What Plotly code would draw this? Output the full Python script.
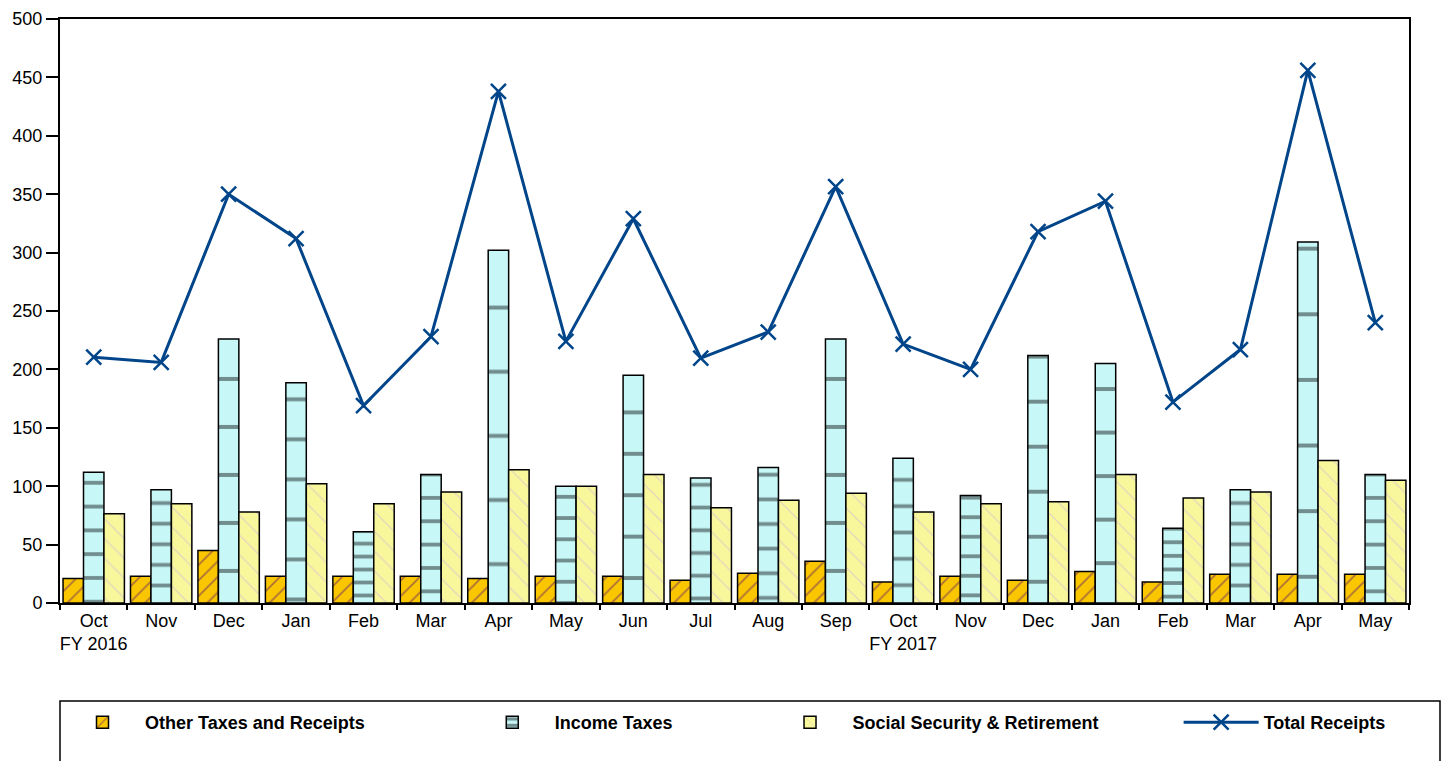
import plotly.graph_objects as go

months = ["Oct<br>FY 2016", "Nov", "Dec", "Jan", "Feb", "Mar", "Apr", "May", "Jun", "Jul",
          "Aug", "Sep", "Oct<br>FY 2017", "Nov", "Dec", "Jan", "Feb", "Mar", "Apr", "May"]
other_taxes = [21, 23, 45, 23, 23, 23, 21, 23, 23, 19.5, 25.5, 35.7, 18, 23, 19.5, 27, 18, 24.6, 24.6, 24.6]
income_taxes = [112, 97, 226, 188.5, 61, 110, 302, 100, 195, 107, 116, 226, 124, 92, 212, 205, 64, 97, 309, 110]
social_security = [76.5, 85, 78, 102, 85, 95, 114, 100, 110, 81.5, 88, 94, 78, 85, 86.6, 110, 90, 95, 122, 105]
total_receipts = [210.5, 206, 350, 312, 169, 228, 438, 224, 329, 209.7, 232, 356.5, 221.6, 200, 318, 344, 172, 217, 456, 240]

series_names = ["Other Taxes and Receipts", "Income Taxes", "Social Security & Retirement", "Total Receipts"]

x = list(range(len(months)))

# legend spacing: pad the entry text with non-breaking spaces
pad = [20, 18, 15, 0]
legend_names = [n + "&nbsp;" * p for n, p in zip(series_names, pad)]

W, H = 1450, 761
M_L, M_R, M_T, M_B = 52, 49, 11, 166
plot_h = H - M_T - M_B
plot_w = W - M_L - M_R

# pattern spacing for income-tax bars scales with bar height (about 5.5 bands per bar)
px_per_unit = plot_h / 500
inc_sizes = [max(8, v * px_per_unit / 5.5) for v in income_taxes]
inc_solid = [min(0.45, 3.8 / s) for s in inc_sizes]

fig = go.Figure()
fig.add_trace(go.Bar(
    x=x, y=other_taxes, name=legend_names[0],
    marker=dict(color="#F9C600", line=dict(color="black", width=1.5),
                pattern=dict(shape="/", fgcolor="#5E1470", bgcolor="#F9C600", size=11, solidity=0.15)),
))
fig.add_trace(go.Bar(
    x=x, y=income_taxes, name=legend_names[1],
    marker=dict(color="#C8F7F7", line=dict(color="black", width=1.5),
                pattern=dict(shape="-", fgcolor="#1A2426", bgcolor="#C8F7F7", size=inc_sizes, solidity=inc_solid)),
))
fig.add_trace(go.Bar(
    x=x, y=social_security, name=legend_names[2],
    marker=dict(color="#F8F79C", line=dict(color="black", width=1.5),
                pattern=dict(shape="\\", fgcolor="#C9A6E6", bgcolor="#F8F79C", size=14, solidity=0.08)),
))
fig.add_trace(go.Scatter(
    x=x, y=total_receipts, name=legend_names[3], mode="lines+markers",
    line=dict(color="#00458A", width=3),
    marker=dict(symbol="x-thin-open", size=15, color="#00458A", line=dict(color="#00458A", width=2.5)),
))

fig.update_layout(
    width=W, height=H,
    margin=dict(l=M_L, r=M_R, t=M_T, b=M_B, autoexpand=False),
    paper_bgcolor="white", plot_bgcolor="white",
    font=dict(family="Liberation Sans, Arial, sans-serif", size=18, color="black"),
    barmode="group", bargap=0.09, bargroupgap=0,
    showlegend=True,
    legend=dict(orientation="h", x=0, xanchor="left", y=-101 / plot_h, yanchor="top",
                borderwidth=0, bgcolor="rgba(0,0,0,0)",
                font=dict(family="Liberation Sans, Arial, sans-serif", size=18, weight="bold"),
                itemwidth=75, traceorder="normal"),
    shapes=[dict(type="rect", xref="paper", yref="paper",
                 x0=0, x1=1380 / plot_w, y0=-98 / plot_h, y1=-170 / plot_h,
                 line=dict(color="black", width=1.5), fillcolor="rgba(0,0,0,0)", layer="below")],
)
fig.update_xaxes(
    range=[-0.5, len(months) - 0.5], automargin=False, ticklabeloverflow="allow",
    tickmode="array", tickvals=x, ticktext=months, ticks="", ticklen=0,
    showline=True, linecolor="black", linewidth=2, mirror=True,
    showgrid=False, zeroline=False,
    minor=dict(tickmode="array", tickvals=[i - 0.5 for i in range(len(months) + 1)],
               ticks="outside", ticklen=5, tickwidth=2, tickcolor="black", showgrid=False),
)
fig.update_yaxes(
    range=[0, 500], tickmode="linear", tick0=0, dtick=50, automargin=False, ticklabeloverflow="allow",
    ticks="outside", ticklen=12, tickwidth=1.5, tickcolor="black",
    showline=True, linecolor="black", linewidth=2, mirror=True,
    showgrid=False, zeroline=False,
)

fig.write_html("out.html")
